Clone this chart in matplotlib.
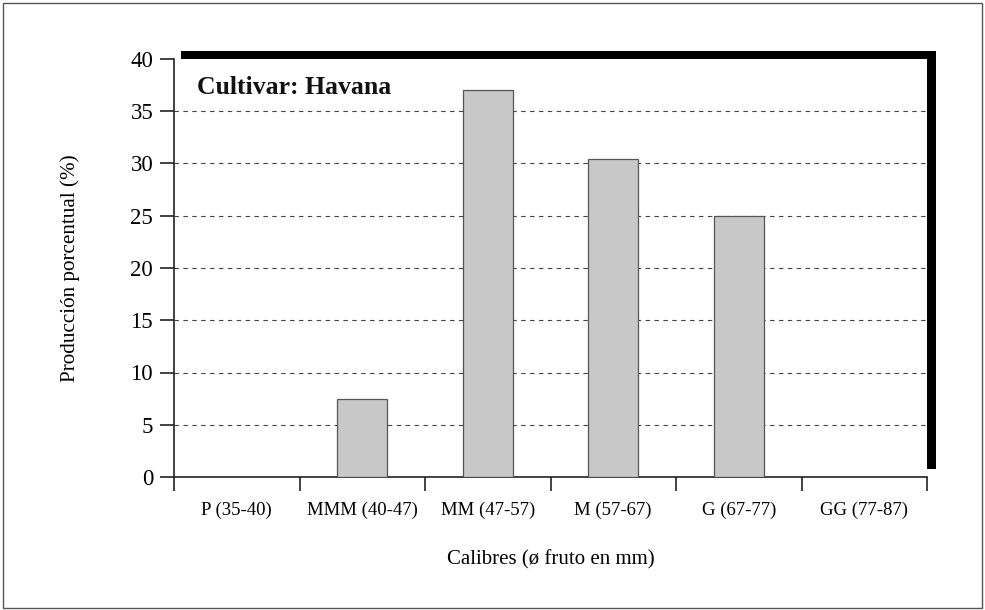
import numpy as np
import matplotlib.pyplot as plt
from matplotlib.patches import Rectangle

plt.rcParams['font.family'] = ['Liberation Serif', 'DejaVu Serif']

categorias = ['P (35-40)', 'MMM (40-47)', 'MM (47-57)', 'M (57-67)', 'G (67-77)', 'GG (77-87)']
produccion = [0, 7.5, 37, 30.4, 25, 0]
yticks = [0, 5, 10, 15, 20, 25, 30, 35, 40]

W, H = 985, 610
fig = plt.figure(figsize=(W / 100, H / 100), dpi=100)

# marco exterior
fig.patches.append(Rectangle((3 / W, 2 / H), 979 / W, 605 / H, transform=fig.transFigure,
                             fill=False, edgecolor='#555555', linewidth=1.0, zorder=-2))

# area del grafico (pixeles)
x0, x1, ytop, ybot = 174, 927, 59, 477
# sombra negra
fig.patches.append(Rectangle(((x0 + 7) / W, (H - ybot + 8) / H), (x1 - x0 + 2) / W, (ybot - ytop) / H,
                             transform=fig.transFigure, facecolor='black', edgecolor='none', zorder=-1))

ax = fig.add_axes([x0 / W, (H - ybot) / H, (x1 - x0) / W, (ybot - ytop) / H])
ax.set_facecolor('white')

x = np.arange(len(categorias))
ax.bar(x, produccion, width=0.4, color='#c8c8c8', edgecolor='#555555', linewidth=0.9, zorder=3)

ax.set_xlim(-0.5, len(categorias) - 0.5)
ax.set_ylim(0, 40)
ax.set_yticks(yticks)
ax.set_xticks(x)
ax.set_xticklabels(categorias, fontsize=13.5)
ax.set_xticks(np.arange(len(categorias) + 1) - 0.5, minor=True)
ax.tick_params(axis='x', which='major', length=0, pad=18)
ax.tick_params(axis='x', which='minor', length=10, width=1.2, direction='out', color='#222222')
ax.tick_params(axis='y', length=10, width=1.2, direction='out', labelsize=16.5, pad=5, color='#222222')

for v in yticks[1:-1]:
    ax.axhline(v, color='#444444', linestyle=(0, (4, 4)), linewidth=0.8, zorder=1)

for s in ['top', 'right']:
    ax.spines[s].set_visible(False)
for s in ['left', 'bottom']:
    ax.spines[s].set_linewidth(1.2)
    ax.spines[s].set_color('#222222')

ax.text(0.03, 0.96, 'Cultivar: Havana', transform=ax.transAxes, fontsize=18.5,
        fontweight='bold', va='top', ha='left', color='#111111')

ax.set_ylabel('Producción porcentual (%)', fontsize=15.2, labelpad=36)
ax.set_xlabel('Calibres (ø fruto en mm)', fontsize=15, labelpad=22)

fig.savefig('out.png', dpi=100)
